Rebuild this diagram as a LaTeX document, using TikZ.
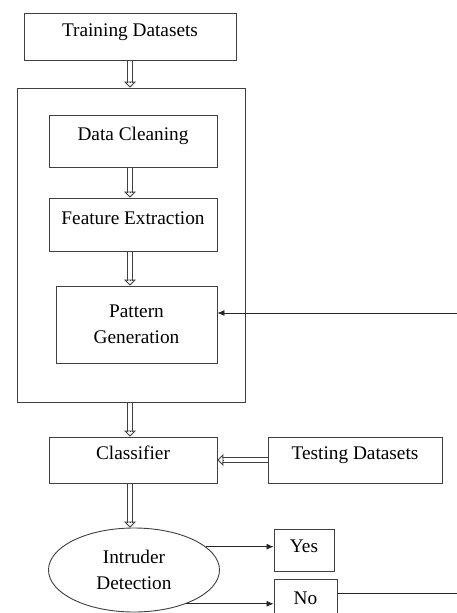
\documentclass[tikz,border=0pt]{standalone}
\usepackage{fontspec}
\setmainfont{Liberation Serif}
\usetikzlibrary{arrows.meta,shapes.geometric,calc}

\begin{document}
\begin{tikzpicture}[x=1pt, y=-1pt,
    box/.style={draw=black!75, line width=0.9pt, rectangle, font=\fontsize{19.3}{26}\selectfont, align=center},
    lifted/.style={text height=14pt, text depth=15pt},
    dblline/.style={draw=black!75, line width=0.8pt, shorten >=5pt},
    dbltip/.style={draw=black!75, line width=0.8pt, -{Triangle[open, length=6pt, width=12pt]}},
    arrowline/.style={draw=black!85, line width=0.8pt, -{Latex[length=7pt, width=6pt]}}]
    \clip (0,0) rectangle (457,613);
    \fill[white] (0,0) rectangle (457,613);
    % training part
    \node[box, lifted, minimum width=212, minimum height=47] (train) at (130,36.5) {Training Datasets};
    \node[box, minimum width=228, minimum height=314] (outer) at (131,245) {};
    \node[box, lifted, minimum width=168, minimum height=52] (clean) at (133,141) {Data Cleaning};
    \node[box, lifted, minimum width=168, minimum height=53] (feat) at (133,224.5) {Feature Extraction};
    \node[box, minimum width=161, minimum height=77] (pat) at (136.5,324.5) {Pattern\\Generation};
    % testing part
    \node[box, lifted, minimum width=168, minimum height=46] (class) at (133,460) {Classifier};
    \node[box, lifted, minimum width=174, minimum height=46] (test) at (355,460) {Testing Datasets};
    \node[box, ellipse, minimum width=171, minimum height=84, inner sep=0pt] (det) at (134,570) {Intruder\\Detection};
    \node[box, minimum width=60, minimum height=42, text height=14pt, text depth=9pt] (yes) at (304,550) {Yes};
    \node[box, minimum width=63, minimum height=46, text height=14pt, text depth=10pt] (no) at (305.5,602) {No};
    \coordinate (col) at (130,0);
    \coordinate (fbno) at (457,593);
    \coordinate (fbpat) at (457,313);

    % hollow double arrows
    \foreach \a/\b in {train/outer, clean/feat, feat/pat, outer/class, class/det} {
        \draw[dblline, transform canvas={xshift=-2.5pt}] (\a.south -| col) -- (\b.north -| col);
        \draw[dblline, transform canvas={xshift=2.5pt}] (\a.south -| col) -- (\b.north -| col);
        \draw[dbltip] ($(\b.north -| col)+(0,-6)$) -- (\b.north -| col);
    }
    \draw[dblline, transform canvas={yshift=2.5pt}] (test.west) -- (class.east);
    \draw[dblline, transform canvas={yshift=-2.5pt}] (test.west) -- (class.east);
    \draw[dbltip] ($(class.east)+(6,0)$) -- (class.east);

    \draw[arrowline] (det.18) -- (det.18 -| yes.west);
    \draw[arrowline] (det.-33) -- (det.-33 -| no.west);
    \draw[draw=black!85, line width=0.8pt] (no.east |- fbno) -- (fbno);
    \draw[arrowline] (fbpat) -- (fbpat -| pat.east);
\end{tikzpicture}
\end{document}
